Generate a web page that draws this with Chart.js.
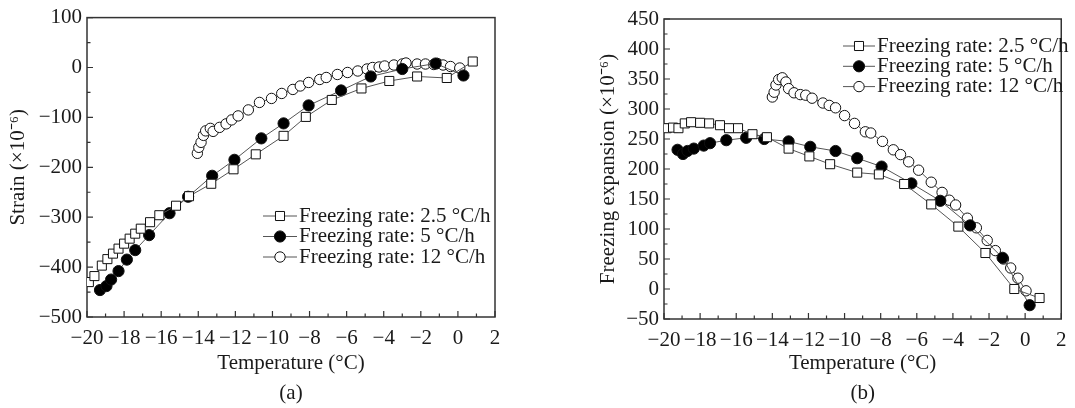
<!DOCTYPE html>
<html>
<head>
<meta charset="utf-8">
<script src="https://cdn.jsdelivr.net/npm/chart.js@4.4.0/dist/chart.umd.min.js"></script>
<style>
  body { margin: 0; background: #fff; }
  #wrap { position: relative; width: 1075px; height: 408px; }
  canvas { position: absolute; top: 0; }
</style>
</head>
<body>
<div id="wrap">
  <canvas id="chart-a" width="540" height="408" style="left:0"></canvas>
  <canvas id="chart-b" width="535" height="408" style="left:540px"></canvas>
</div>
<script>
// (a) strain vs temperature
const strainTemp25 = [-19.9, -19.6, -19.2, -18.9, -18.6, -18.3, -18.0, -17.7, -17.4, -17.1, -16.6, -16.1, -15.2, -14.5, -13.3, -12.1, -10.9, -9.4, -8.2, -6.8, -5.2, -3.7, -2.2, -0.6, 0.8];
const strain25 = [-430, -418, -397, -384, -373, -363, -353, -343, -333, -323, -310, -296, -277, -258, -233, -204, -174, -137, -99, -65, -42, -27, -18, -21, 12];
const strainTemp5 = [-19.3, -18.95, -18.7, -18.3, -17.85, -17.4, -16.65, -15.55, -14.55, -13.25, -12.05, -10.6, -9.4, -8.05, -6.3, -4.7, -3.0, -1.2, 0.3];
const strain5 = [-446, -438, -425, -408, -385, -366, -336, -292, -259, -217, -185, -142, -112, -76, -46, -18, -3, 8, -16];
const strainTemp12 = [-14.05, -13.97, -13.85, -13.72, -13.6, -13.35, -13.2, -12.85, -12.5, -12.2, -11.85, -11.3, -10.7, -10.05, -9.5, -8.9, -8.5, -8.05, -7.45, -7.1, -6.5, -5.95, -5.4, -4.9, -4.6, -4.25, -3.95, -3.45, -3.0, -2.8, -2.2, -1.75, -1.3, -1.1, -0.8, -0.4, 0.1];
const strain12 = [-172, -160, -150, -136, -127, -122, -128, -120, -113, -105, -97, -85, -70, -62, -52, -44, -37, -30, -24, -20, -14, -10, -7, -3, 0, 1, 3, 5, 7, 9, 7, 7, 6, 8, 5, 2, -1];

// (b) freezing expansion vs temperature
const expTemp25 = [-19.85, -19.5, -19.2, -18.85, -18.5, -18.0, -17.5, -16.9, -16.4, -15.9, -15.1, -14.3, -13.1, -11.95, -10.8, -9.3, -8.1, -6.7, -5.2, -3.7, -2.2, -0.6, 0.8];
const exp25 = [268, 269, 268, 276, 278, 277, 276, 273, 268, 268, 258, 253, 234, 221, 208, 194, 191, 175, 141, 104, 60, 0, -15];
const expTemp5 = [-19.25, -18.95, -18.7, -18.35, -17.8, -17.45, -16.55, -15.45, -14.45, -13.1, -11.9, -10.5, -9.3, -7.95, -6.3, -4.7, -3.05, -1.25, 0.25];
const exp5 = [232, 225, 230, 234, 239, 243, 248, 252, 250, 246, 237, 230, 218, 204, 176, 147, 106, 52, -27];
const expTemp12 = [-14.0, -13.9, -13.8, -13.65, -13.45, -13.25, -13.1, -12.8, -12.45, -12.15, -11.8, -11.2, -10.85, -10.5, -10.0, -9.45, -8.85, -8.55, -7.9, -7.3, -6.9, -6.45, -5.9, -5.2, -4.6, -4.2, -3.85, -3.2, -2.7, -2.1, -1.65, -1.2, -0.8, -0.4, 0.05];
const exp12 = [320, 328, 340, 349, 352, 345, 334, 327, 324, 323, 318, 310, 306, 302, 289, 276, 262, 260, 246, 232, 224, 212, 198, 178, 161, 148, 140, 118, 102, 81, 64, 50, 35, 18, -3];

const seriesLabels = ["Freezing rate: 2.5 °C/h", "Freezing rate: 5 °C/h", "Freezing rate: 12 °C/h"];

const fontFam = '"Liberation Serif", "Times New Roman", serif';
const ink = "#1a1a1a";
const fontSize = 21;

const fmt = (v) => (v < 0 ? "\u2212" + Math.abs(v) : String(v));
const pairs = (xs, ys) => xs.map((x, i) => ({ x: x, y: ys[i] }));

// marker looks per series: square, filled dot, open dot
const looks = [
  { pointStyle: "rect", pointRadius: 6.4, pointBackgroundColor: "#fff" },
  { pointStyle: "circle", pointRadius: 5.6, pointBackgroundColor: "#000" },
  { pointStyle: "circle", pointRadius: 5.2, pointBackgroundColor: "#fff" },
];

function makeDatasets(series) {
  return series.map((s, i) => Object.assign({
    label: seriesLabels[i],
    data: pairs(s[0], s[1]),
    showLine: true,
    borderColor: "#555",
    borderWidth: 1,
    pointBorderColor: "#111",
    pointBorderWidth: 1,
    pointHoverRadius: 0,
  }, looks[i]));
}

// box frame + inward ticks (major/minor)
const frameTicks = {
  id: "frameTicks",
  beforeDatasetsDraw(chart, args, opts) {
    const { ctx, chartArea: a, scales } = chart;
    ctx.save();
    ctx.strokeStyle = "#333";
    ctx.lineWidth = 1.5;
    ctx.strokeRect(a.left, a.top, a.right - a.left, a.bottom - a.top);
    ctx.lineWidth = 1.2;
    ctx.beginPath();
    scales.x.ticks.forEach((t) => {
      const px = scales.x.getPixelForValue(t.value);
      const len = t.value % 2 === 0 ? 6 : 3.5;
      ctx.moveTo(px, a.bottom);
      ctx.lineTo(px, a.bottom - len);
    });
    scales.y.ticks.forEach((t) => {
      const py = scales.y.getPixelForValue(t.value);
      const len = t.value % opts.yMajor === 0 ? 6 : 3.5;
      ctx.moveTo(a.left, py);
      ctx.lineTo(a.left + len, py);
    });
    ctx.stroke();
    ctx.restore();
  },
};

// legend with line sample through the marker
const lineLegend = {
  id: "lineLegend",
  afterDraw(chart, args, opts) {
    const ctx = chart.ctx;
    ctx.save();
    ctx.font = fontSize + "px " + fontFam;
    ctx.textBaseline = "middle";
    chart.data.datasets.forEach((ds, i) => {
      const y = opts.y + i * opts.gap;
      const mx = (opts.x0 + opts.x1) / 2;
      ctx.strokeStyle = ds.borderColor;
      ctx.lineWidth = 1;
      ctx.beginPath();
      ctx.moveTo(opts.x0, y);
      ctx.lineTo(opts.x1, y);
      ctx.stroke();
      ctx.fillStyle = ds.pointBackgroundColor;
      ctx.strokeStyle = ds.pointBorderColor;
      ctx.beginPath();
      if (ds.pointStyle === "rect") {
        const h = ds.pointRadius * Math.SQRT1_2;
        ctx.rect(mx - h, y - h, 2 * h, 2 * h);
      } else {
        ctx.arc(mx, y, ds.pointRadius, 0, Math.PI * 2);
      }
      ctx.fill();
      ctx.stroke();
      ctx.fillStyle = ink;
      ctx.fillText(ds.label, opts.x1 + 2, y);
    });
    ctx.restore();
  },
};

function makeChart(id, cfg) {
  return new Chart(document.getElementById(id), {
    type: "scatter",
    data: { datasets: makeDatasets(cfg.series) },
    options: {
      responsive: false,
      animation: false,
      devicePixelRatio: 1,
      layout: { padding: cfg.padding },
      plugins: {
        legend: { display: false },
        tooltip: { enabled: false },
        frameTicks: { yMajor: cfg.yMajor },
        lineLegend: cfg.legend,
      },
      scales: {
        x: {
          type: "linear",
          min: -20,
          max: 2,
          grid: { display: false, drawTicks: false },
          border: { display: false },
          ticks: {
            stepSize: 1,
            autoSkip: false,
            maxRotation: 0,
            padding: 8.5,
            color: ink,
            font: { family: fontFam, size: fontSize },
            callback: (v) => (v % 2 === 0 ? fmt(v) : ""),
          },
          title: {
            display: true,
            text: ["Temperature (°C)", cfg.tag],
            color: ink,
            font: { family: fontFam, size: fontSize, lineHeight: 30 / fontSize },
            padding: { top: 0, bottom: 0 },
          },
          afterFit: (s) => { s.height = cfg.xHeight; },
        },
        y: {
          type: "linear",
          min: cfg.yMin,
          max: cfg.yMax,
          grid: { display: false, drawTicks: false },
          border: { display: false },
          ticks: {
            stepSize: cfg.yMajor / 2,
            autoSkip: false,
            padding: 5,
            color: ink,
            font: { family: fontFam, size: fontSize },
            callback: (v) => (v % cfg.yMajor === 0 ? fmt(v) : ""),
          },
          title: {
            display: true,
            text: cfg.yTitle,
            color: ink,
            font: { family: fontFam, size: fontSize },
            padding: { top: cfg.yTitlePad, bottom: 0 },
          },
          afterFit: (s) => { s.width = cfg.yWidth; },
        },
      },
    },
    plugins: [frameTicks, lineLegend],
  });
}

makeChart("chart-a", {
  series: [[strainTemp25, strain25], [strainTemp5, strain5], [strainTemp12, strain12]],
  padding: { left: 0, right: 45, top: 17, bottom: 0 },
  xHeight: 91,
  yWidth: 87,
  yMin: -500,
  yMax: 100,
  yMajor: 100,
  yTitle: "Strain (×10\u207B\u2076)",
  yTitlePad: 5.5,
  tag: "(a)",
  legend: { x0: 263, x1: 297, y: 216, gap: 20.5 },
});

makeChart("chart-b", {
  series: [[expTemp25, exp25], [expTemp5, exp5], [expTemp12, exp12]],
  padding: { left: 0, right: 4, top: 19, bottom: 0 },
  xHeight: 89,
  yWidth: 124,
  yMin: -50,
  yMax: 450,
  yMajor: 50,
  yTitle: "Freezing expansion (×10\u207B\u2076)",
  yTitlePad: 55.5,
  tag: "(b)",
  legend: { x0: 303, x1: 335, y: 46, gap: 20.3 },
});
</script>
</body>
</html>
